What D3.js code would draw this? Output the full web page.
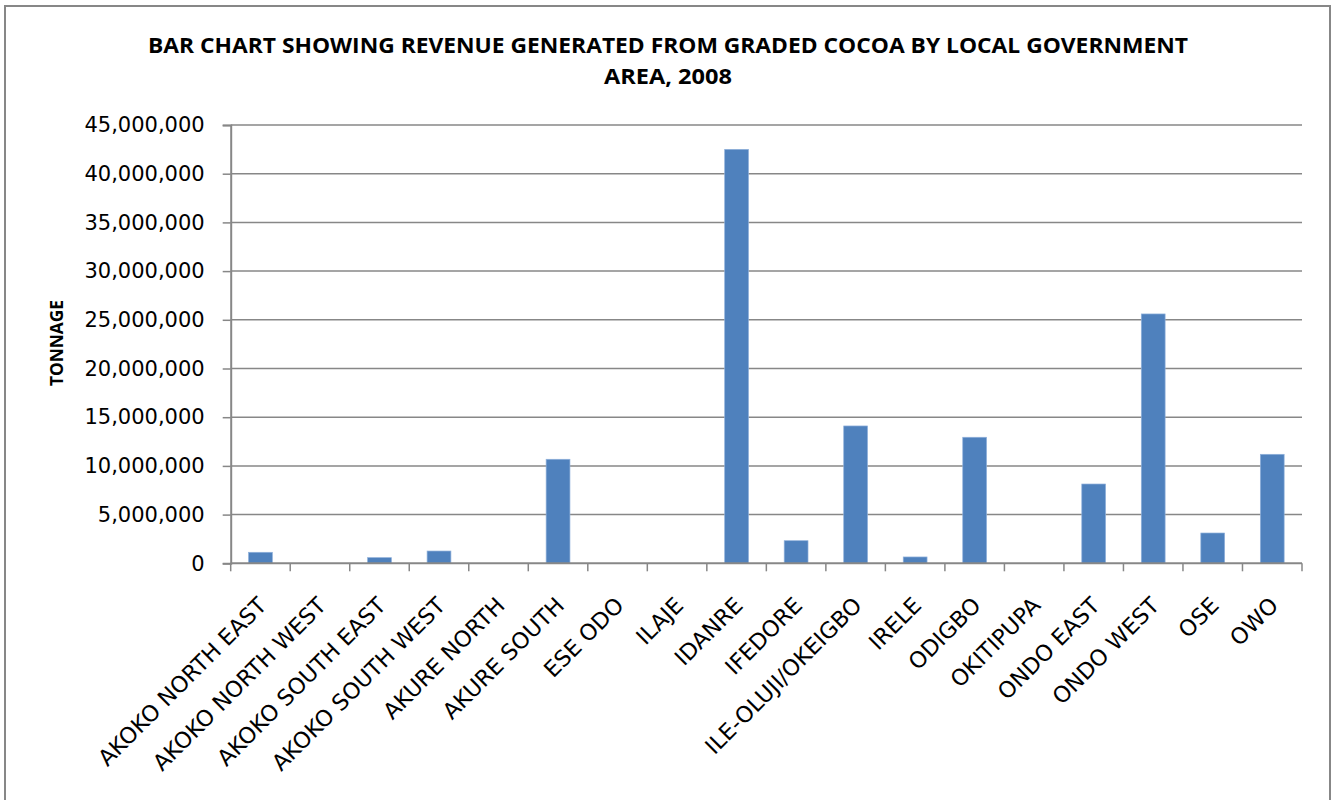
<!DOCTYPE html>
<html><head><meta charset="utf-8">
<script src="https://cdn.jsdelivr.net/npm/d3@7"></script>
<style>body{margin:0;background:#fff}svg{display:block}</style>
</head><body>
<svg id="c" width="1334" height="800"></svg>
<script>
const categories = ["AKOKO NORTH EAST","AKOKO NORTH WEST","AKOKO SOUTH EAST","AKOKO SOUTH WEST","AKURE NORTH","AKURE SOUTH","ESE ODO","ILAJE","IDANRE","IFEDORE","ILE-OLUJI/OKEIGBO","IRELE","ODIGBO","OKITIPUPA","ONDO EAST","ONDO WEST","OSE","OWO"];
const revenue = [1130000,0,580000,1260000,0,10680000,0,0,42500000,2320000,14100000,650000,12940000,0,8140000,25600000,3110000,11190000];
const yTicks = [0,5000000,10000000,15000000,20000000,25000000,30000000,35000000,40000000,45000000];
const titleLines = ["BAR CHART SHOWING REVENUE GENERATED FROM GRADED COCOA BY LOCAL GOVERNMENT","AREA, 2008"];
const yTitle = "TONNAGE";

const svg = d3.select("#c");
const L = 230.7, R = 1302, T = 125, B = 563.3;
const x = d3.scaleBand().domain(categories).range([L, R]).paddingInner(0).paddingOuter(0);
const y = d3.scaleLinear().domain([0, 45000000]).range([B, T]);
const grey = "#878787";

// frame
svg.append("rect").attr("x",5).attr("y",6).attr("width",1325).attr("height",810)
  .attr("fill","none").attr("stroke",grey).attr("stroke-width",2);

// gridlines
svg.append("g").selectAll("line").data(yTicks.filter(d=>d>0)).join("line")
  .attr("x1",L).attr("x2",R).attr("y1",d=>y(d)).attr("y2",d=>y(d))
  .attr("stroke",grey).attr("stroke-width",1.5);

// bars
const bw = x.bandwidth()/2.5;
svg.append("g").selectAll("rect").data(categories.map((c,i)=>({c,v:revenue[i]})).filter(d=>d.v>0)).join("rect")
  .attr("x",d=>x(d.c)+(x.bandwidth()-bw)/2).attr("width",bw)
  .attr("y",d=>y(d.v)).attr("height",d=>B-y(d.v))
  .attr("fill","#4F81BD").attr("stroke","#8fb0db").attr("stroke-width",0.7);

// y axis
const yAxis = svg.append("g").attr("transform",`translate(${L},0)`)
  .call(d3.axisLeft(y).tickValues(yTicks).tickSize(8).tickPadding(18).tickFormat(d3.format(",")));
yAxis.selectAll("line").attr("stroke",grey).attr("stroke-width",1.5);
yAxis.select(".domain").attr("stroke",grey).attr("stroke-width",2);
yAxis.selectAll("text").attr("font-family","DejaVu Sans").attr("font-size",21).attr("fill","#000");

// x axis
const xg = svg.append("g").attr("transform",`translate(0,${B})`);
xg.append("line").attr("x1",L).attr("x2",R).attr("stroke",grey).attr("stroke-width",2);
const bounds = categories.map(c=>x(c)).concat([R]);
xg.selectAll("line.t").data(bounds).join("line").attr("class","t")
  .attr("x1",d=>d).attr("x2",d=>d).attr("y1",0).attr("y2",8).attr("stroke",grey).attr("stroke-width",1.5);
xg.selectAll("text").data(categories).join("text")
  .attr("transform",d=>`translate(${x(d)+x.bandwidth()/2+2},${38}) rotate(-45)`)
  .attr("text-anchor","end").attr("dy","0.35em")
  .attr("font-family","DejaVu Sans").attr("font-size",22.3).attr("fill","#000")
  .text(d=>d);

// title
svg.append("g").selectAll("text").data(titleLines).join("text")
  .attr("x",668).attr("y",(d,i)=>53+i*31).attr("text-anchor","middle")
  .attr("font-family","Open Sans").attr("font-weight","bold").attr("font-size",20.5).attr("fill","#000")
  .attr("textLength",(d,i)=>i===0?1040:128).attr("lengthAdjust","spacingAndGlyphs")
  .text(d=>d);

// y title
svg.append("text").attr("transform","translate(63,343) rotate(-90)")
  .attr("text-anchor","middle").attr("font-family","Open Sans").attr("font-weight","bold")
  .attr("font-size",17).attr("textLength",86).attr("lengthAdjust","spacingAndGlyphs").text(yTitle);
</script>
</body></html>
